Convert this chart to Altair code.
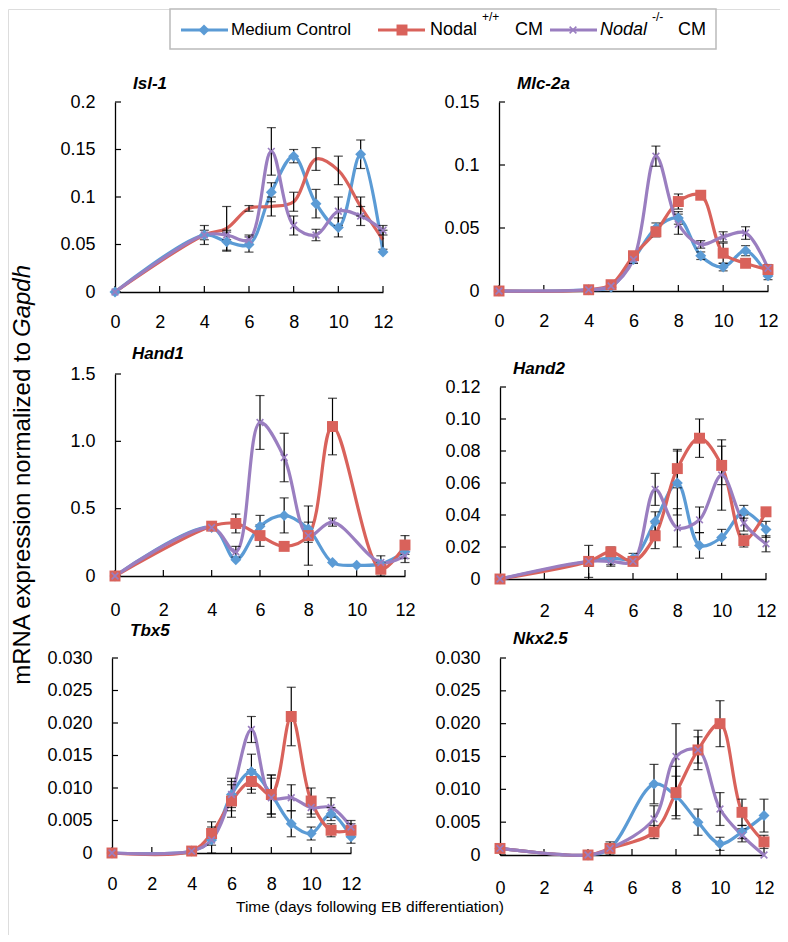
import altair as alt
import pandas as pd

FONT = "Liberation Sans"
SERIES = ["Medium Control", "Nodal+/+ CM", "Nodal-/- CM"]
COLORS = ["#5B9BD5", "#D9625B", "#9A7EC0"]
XSHAPE = "M-1,-1L1,1M-1,1L1,-1"

DAYS = [0, 4, 5, 6, 7, 8, 9, 10, 11, 12]

# ---------------- data ----------------
isl1_blue = [0, 0.060, 0.053, 0.050, 0.105, 0.143, 0.093, 0.068, 0.145, 0.042]
isl1_red = [0, 0.060, 0.067, 0.088, 0.090, 0.095, 0.140, 0.128, 0.090, 0.055]
isl1_purple = [0, 0.060, 0.060, 0.055, 0.148, 0.070, 0.060, 0.085, 0.080, 0.065]
isl1_blue_err = [0, 0.010, 0.010, 0.008, 0.010, 0.007, 0.015, 0.010, 0.015, 0]
isl1_red_err = [0, 0, 0.023, 0.003, 0.010, 0.010, 0.012, 0.015, 0.010, 0.010]
isl1_purple_err = [0, 0.005, 0.005, 0.005, 0.025, 0.010, 0.006, 0.015, 0.010, 0.005]

mlc_blue = [0, 0.001, 0.003, 0.025, 0.050, 0.058, 0.028, 0.019, 0.032, 0.012]
mlc_red = [0, 0.001, 0.005, 0.028, 0.047, 0.071, 0.076, 0.030, 0.022, 0.017]
mlc_purple = [0, 0.001, 0.004, 0.025, 0.107, 0.053, 0.037, 0.043, 0.046, 0.018]
mlc_blue_err = [0, 0, 0, 0.003, 0.004, 0.005, 0.003, 0.003, 0.004, 0.003]
mlc_red_err = [0, 0, 0, 0.003, 0.004, 0.006, 0.002, 0.008, 0.003, 0.003]
mlc_purple_err = [0, 0, 0, 0.003, 0.008, 0.008, 0.003, 0.004, 0.005, 0.003]

hand1_blue = [0, 0.36, 0.12, 0.37, 0.45, 0.35, 0.10, 0.08, 0.09, 0.18]
hand1_red = [0, 0.37, 0.39, 0.30, 0.22, 0.30, 1.11, None, 0.05, 0.23]
hand1_purple = [0, 0.36, 0.18, 1.14, 0.88, 0.30, 0.40, None, 0.10, 0.15]
hand1_blue_err = [0, 0, 0, 0.08, 0.13, 0.05, 0, 0, 0, 0.05]
hand1_red_err = [0, 0, 0.07, 0.08, 0, 0.05, 0.21, 0, 0.05, 0.07]
hand1_purple_err = [0, 0, 0.04, 0.20, 0.18, 0.22, 0.03, None, 0.05, 0.05]

hand2_blue = [0, 0.011, 0.013, 0.013, 0.036, 0.060, 0.021, 0.026, 0.042, 0.031]
hand2_red = [0, 0.011, 0.017, 0.011, 0.027, 0.069, 0.088, 0.071, 0.024, 0.042]
hand2_purple = [0, 0.011, 0.011, 0.011, 0.056, 0.032, 0.037, 0.065, 0.035, 0.022]
hand2_blue_err = [0, 0.010, 0.004, 0.003, 0.006, 0.020, 0.008, 0.005, 0.004, 0.005]
hand2_red_err = [0, 0.003, 0.003, 0.002, 0.008, 0.012, 0.012, 0.012, 0.004, 0]
hand2_purple_err = [0, 0.003, 0.003, 0.002, 0.010, 0.012, 0.008, 0.022, 0.005, 0.005]

tbx5_blue = [0, 0.0003, 0.0020, 0.0090, 0.0125, 0.0090, 0.0045, 0.0030, 0.0060, 0.0025]
tbx5_red = [0, 0.0003, 0.0030, 0.0080, 0.0110, 0.0090, 0.0210, 0.0080, 0.0035, 0.0035]
tbx5_purple = [0, 0.0003, 0.0020, 0.0090, 0.0190, 0.0085, 0.0085, 0.0070, 0.0070, 0.0040]
tbx5_blue_err = [0, 0, 0.0020, 0.0025, 0.0027, 0.0030, 0.0020, 0.0010, 0.0010, 0.0010]
tbx5_red_err = [0, 0, 0.0018, 0.0025, 0.0018, 0.0030, 0.0045, 0.0020, 0.0010, 0.0010]
tbx5_purple_err = [0, 0, 0, 0.0020, 0.0020, 0.0030, 0.0020, 0.0015, 0.0015, 0.0010]

nkx_blue = [0.0010, 0, 0.0010, None, 0.0108, 0.0090, 0.0050, 0.0017, 0.0035, 0.0060]
nkx_red = [0.0010, 0, 0.0010, None, 0.0035, 0.0095, 0.0160, 0.0200, 0.0065, 0.0020]
nkx_purple = [0.0010, 0, 0.0010, None, 0.0055, 0.0150, 0.0160, 0.0070, 0.0030, 0]
nkx_blue_err = [0, 0, 0.0010, None, 0.0030, 0.0030, 0.0020, 0.0010, 0.0010, 0.0025]
nkx_red_err = [0, 0, 0, None, 0.0010, 0.0040, 0.0030, 0.0035, 0.0020, 0.0010]
nkx_purple_err = [0, 0, 0, None, 0.0020, 0.0050, 0.0020, 0.0025, 0.0010, 0]

X_TICKS = [0, 2, 4, 6, 8, 10, 12]
X_TICKS_HAND2 = [2, 4, 6, 8, 10, 12]

OX, OY = 8, 8          # page margin
W, H = 772, 926        # whole drawing area


def make_df(vals, errs):
    rows = []
    for si, (v, e) in enumerate(zip(vals, errs)):
        for d, val, err in zip(DAYS, v, e):
            if val is None:
                continue
            err = err or 0
            rows.append({"day": d, "value": val, "lo": val - err, "hi": val + err,
                         "err": err, "series": SERIES[si]})
    return pd.DataFrame(rows)


def panel(title, vals, errs, ymax, yticks, yfmt, box, title_xy,
          xticks=X_TICKS, xpad=22, red_markers=True):
    x0, x1, ytop, ybot = [v - OX for v in box]
    df = make_df(vals, errs)
    xs = alt.Scale(domain=[0, 12], nice=False, range=[x0, x1])
    ys = alt.Scale(domain=[0, ymax], nice=False, range=[ybot, ytop])
    if yfmt is None:
        lab = "datum.value == 0 ? '0' : format(datum.value, '~g')"
    else:
        lab = "datum.value == 0 ? '0' : format(datum.value, '" + yfmt + "')"
    xaxis = alt.Axis(values=xticks, title=None, grid=False, ticks=False, orient="bottom",
                     offset=ybot - H, labelFontSize=18, labelPadding=xpad, labelFont=FONT,
                     labelColor="black", domainColor="black", domainWidth=1.3,
                     labelFlush=False, labelOverlap=False)
    yaxis = alt.Axis(values=yticks, title=None, grid=False, ticks=False, orient="left",
                     offset=-x0, labelFontSize=18, labelPadding=20, labelFont=FONT,
                     labelColor="black", domainColor="black", domainWidth=1.3,
                     labelExpr=lab, labelFlush=False, labelOverlap=False)
    base = alt.Chart(df)
    X = alt.X("day:Q", scale=xs, axis=xaxis)
    Y = alt.Y("value:Q", scale=ys, axis=yaxis)
    layers = []
    xt = pd.DataFrame({"t": xticks})
    yt = pd.DataFrame({"t": yticks})
    # inner tick marks
    layers.append(alt.Chart(xt).mark_rule(color="black", strokeWidth=1.2).encode(
        x=alt.X("t:Q", scale=xs, axis=xaxis), y=alt.value(ybot - 6), y2=alt.value(ybot)))
    layers.append(alt.Chart(yt).mark_rule(color="black", strokeWidth=1.2).encode(
        y=alt.Y("t:Q", scale=ys, axis=yaxis), x=alt.value(x0), x2=alt.value(x0 + 6)))
    for si, s in enumerate(SERIES):
        sub = base.transform_filter(alt.datum.series == s)
        layers.append(sub.mark_line(interpolate="catmull-rom", strokeWidth=3.2,
                                    color=COLORS[si]).encode(x=X, y=Y))
    eb = base.transform_filter(alt.datum.err > 0)
    layers.append(eb.mark_rule(color="black", strokeWidth=1.2).encode(
        x=X, y=alt.Y("lo:Q", scale=ys, axis=yaxis), y2="hi:Q"))
    layers.append(eb.mark_tick(color="black", thickness=1.2, size=9, orient="horizontal").encode(
        x=X, y=alt.Y("lo:Q", scale=ys, axis=yaxis)))
    layers.append(eb.mark_tick(color="black", thickness=1.2, size=9, orient="horizontal").encode(
        x=X, y=alt.Y("hi:Q", scale=ys, axis=yaxis)))
    layers.append(base.transform_filter(alt.datum.series == SERIES[0]).mark_point(
        shape="diamond", filled=True, size=120, color=COLORS[0], opacity=1).encode(x=X, y=Y))
    if red_markers:
        layers.append(base.transform_filter(alt.datum.series == SERIES[1]).mark_point(
            shape="square", filled=True, size=120, color=COLORS[1], opacity=1).encode(x=X, y=Y))
    layers.append(base.transform_filter(alt.datum.series == SERIES[2]).mark_point(
        shape=XSHAPE, filled=False, size=45, color=COLORS[2], strokeWidth=1.6,
        opacity=1).encode(x=X, y=Y))
    tx, ty = title_xy
    layers.append(alt.Chart(pd.DataFrame({"a": [0]})).mark_text(
        text=title, align="left", baseline="middle", font=FONT, fontSize=17,
        fontStyle="italic", fontWeight="bold", color="black").encode(
        x=alt.value(tx - OX), y=alt.value(ty - OY)))
    return alt.layer(*layers)


isl1 = panel("Isl-1", [isl1_blue, isl1_red, isl1_purple],
             [isl1_blue_err, isl1_red_err, isl1_purple_err],
             0.2, [0, 0.05, 0.1, 0.15, 0.2], None, (115, 383, 101, 291), (133, 83),
             xpad=21, red_markers=False)
mlc = panel("Mlc-2a", [mlc_blue, mlc_red, mlc_purple],
            [mlc_blue_err, mlc_red_err, mlc_purple_err],
            0.15, [0, 0.05, 0.1, 0.15], None, (499, 768, 101, 290), (517, 83), xpad=21)
hand1 = panel("Hand1", [hand1_blue, hand1_red, hand1_purple],
              [hand1_blue_err, hand1_red_err, hand1_purple_err],
              1.5, [0, 0.5, 1.0, 1.5], ".1f", (115, 405, 373, 575), (132, 353), xpad=25)
hand2 = panel("Hand2", [hand2_blue, hand2_red, hand2_purple],
              [hand2_blue_err, hand2_red_err, hand2_purple_err],
              0.12, [0, 0.02, 0.04, 0.06, 0.08, 0.10, 0.12], ".2f", (500, 766, 386, 578),
              (513, 368), xticks=X_TICKS_HAND2, xpad=23)
tbx5 = panel("Tbx5", [tbx5_blue, tbx5_red, tbx5_purple],
             [tbx5_blue_err, tbx5_red_err, tbx5_purple_err],
             0.03, [0, 0.005, 0.01, 0.015, 0.02, 0.025, 0.03], ".3f", (112, 351, 657, 852),
             (130, 630), xpad=22)
nkx = panel("Nkx2.5", [nkx_blue, nkx_red, nkx_purple],
            [nkx_blue_err, nkx_red_err, nkx_purple_err],
            0.03, [0, 0.005, 0.01, 0.015, 0.02, 0.025, 0.03], ".3f", (500, 764, 657, 854),
            (513, 638), xpad=24)

one = pd.DataFrame({"a": [0]})


def txt(t, x, y, fs=17, style="normal", align="left", angle=0):
    return alt.Chart(one).mark_text(text=t, align=align, baseline="middle", font=FONT,
                                    fontSize=fs, fontStyle=style, color="black",
                                    angle=angle).encode(x=alt.value(x - OX), y=alt.value(y - OY))


# ---------------- legend ----------------
deco = [alt.Chart(one).mark_rect(fill="white", stroke="#bbbbbb", strokeWidth=1.5).encode(
    x=alt.value(170 - OX), x2=alt.value(716 - OX), y=alt.value(0), y2=alt.value(40))]
LY = 29
items = [(181, 228, 204), (378, 425, 402), (550, 597, 573)]
shape_args = [dict(shape="diamond", filled=True, size=120),
              dict(shape="square", filled=True, size=120),
              dict(shape=XSHAPE, filled=False, size=45, strokeWidth=1.6)]
for i, (x1, x2, xm) in enumerate(items):
    deco.append(alt.Chart(one).mark_rule(color=COLORS[i], strokeWidth=3.2).encode(
        x=alt.value(x1 - OX), x2=alt.value(x2 - OX), y=alt.value(LY - OY)))
    deco.append(alt.Chart(one).mark_point(color=COLORS[i], opacity=1, **shape_args[i]).encode(
        x=alt.value(xm - OX), y=alt.value(LY - OY)))
deco += [txt("Medium Control", 231, LY), txt("Nodal", 430, LY, fs=18), txt("+/+", 482, 16, fs=12),
         txt("CM", 515, LY, fs=18), txt("Nodal", 600, LY, fs=18, style="italic"),
         txt("-/-", 652, 16, fs=12), txt("CM", 678, LY, fs=18)]

# ---------------- axis titles ----------------
YSPLIT = 336
deco += [txt("mRNA expression normalized to", 23, YSPLIT + 5, fs=24, align="right", angle=270),
         txt("Gapdh", 23, YSPLIT, fs=24, style="italic", align="left", angle=270),
         txt("Time (days following EB differentiation)", 370, 906, fs=15.5, align="center")]

chart = alt.layer(isl1, mlc, hand1, hand2, tbx5, nkx, *deco).resolve_scale(
    x="independent", y="independent").resolve_axis(x="independent", y="independent").properties(
    width=W, height=H, padding=0).configure_view(stroke=None).configure(font=FONT)

chart.save("out.html", embed_options={"renderer": "svg", "actions": False})
